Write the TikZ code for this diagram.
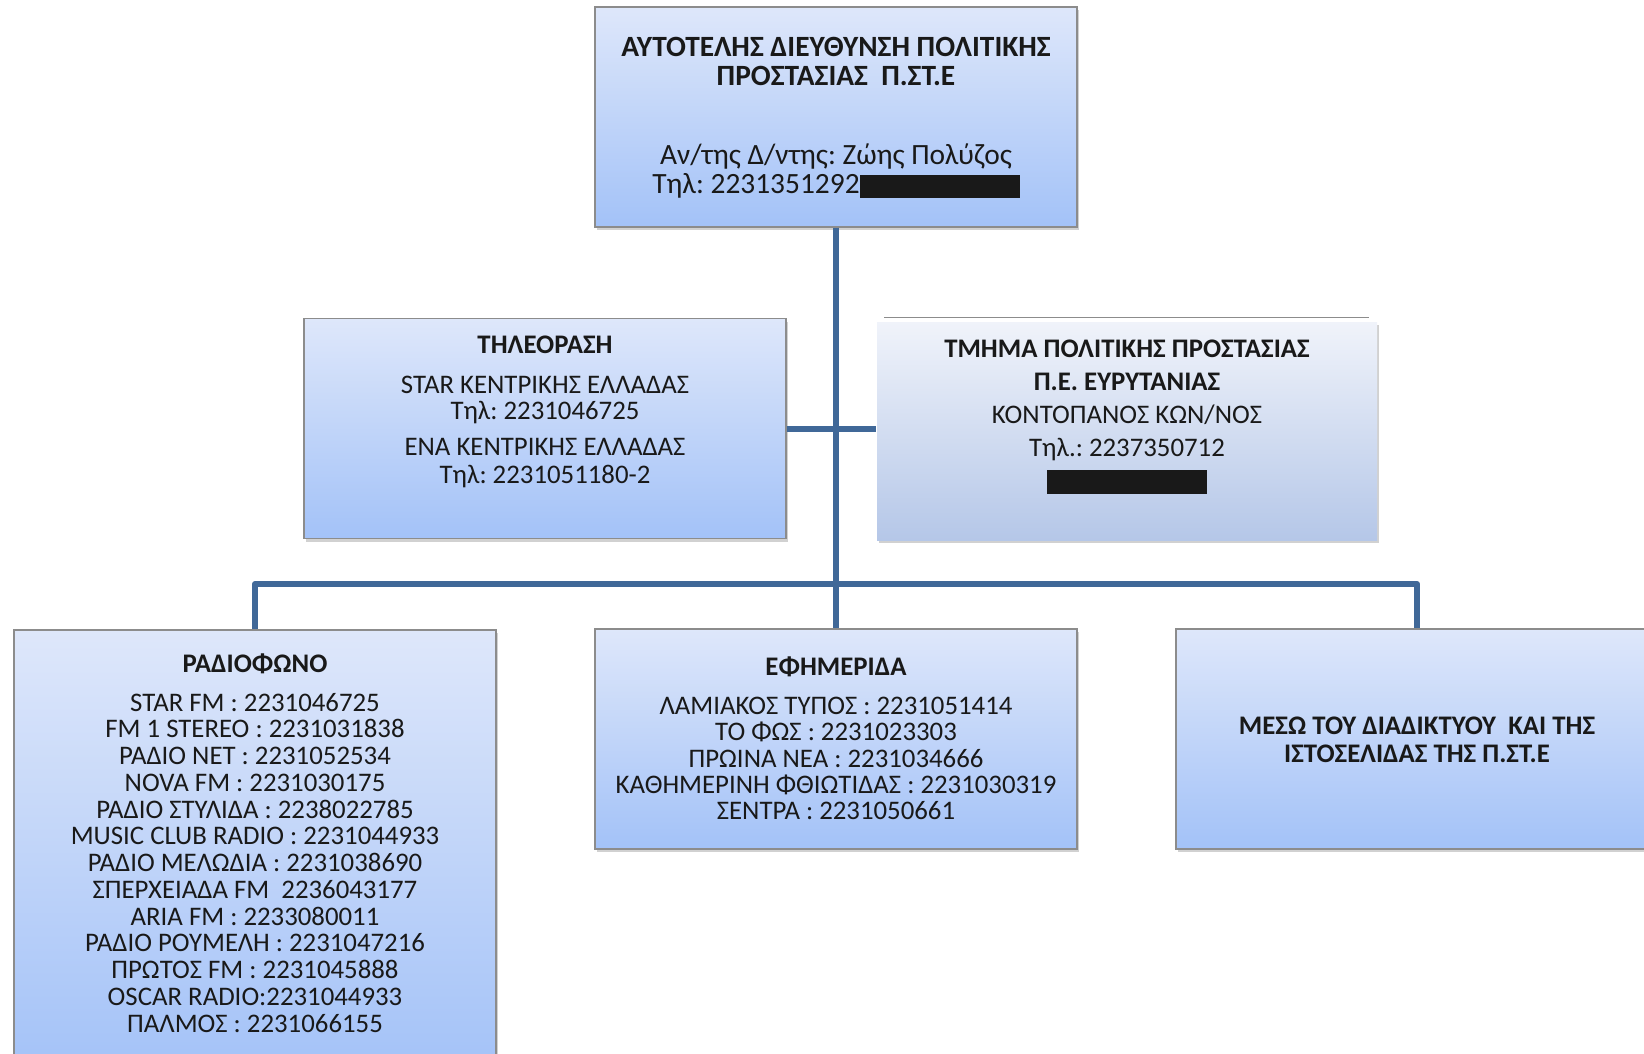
\documentclass[tikz,border=0pt]{standalone}
\usepackage{fontspec}
\setmainfont{Carlito}
\usepackage{xcolor}
\usepackage{tikz}
\usetikzlibrary{positioning, shadows, calc}
\frenchspacing
\definecolor{boxtop}{RGB}{222,231,250}
\definecolor{boxbot}{RGB}{163,194,248}
\definecolor{unittop}{RGB}{240,243,250}
\definecolor{unitbot}{RGB}{181,199,232}
\definecolor{boxline}{RGB}{140,140,140}
\definecolor{linkblue}{RGB}{64,104,152}
\tikzset{
  box/.style={draw=boxline, line width=0.6pt, top color=boxtop, bottom color=boxbot,
              minimum width=241pt, minimum height=110pt, inner sep=0pt,
              drop shadow={shadow xshift=1.2pt, shadow yshift=-1.5pt,
                           fill=black!60, opacity=0.3}},
  unitbox/.style={box, draw=none, top color=unittop, bottom color=unitbot,
                  minimum width=250pt, minimum height=109pt},
  txt/.style={align=center, inner sep=0pt, text=black!90,
              font=\fontsize{13.4}{13.37}\selectfont},
  link/.style={draw=linkblue, line width=3pt, line join=round}
}

\begin{document}
\begin{tikzpicture}[x=0.5pt, y=-0.5pt]
  \useasboundingbox (0,0) rectangle (1644,1054);
  \clip (0,0) rectangle (1644,1054);
  \node[box] (chief) at (836,117) {};
  \node[box] (tv) at (545,428.5) {};
  \node[unitbox] (unit) at (1127,431) {};
  \node[box, minimum height=222.5pt] (radio) at (255,852.5) {};
  \node[box] (press) at (836,739) {};
  \node[box] (web) at (1417,739) {};
  \coordinate (bus) at (836,584);

  \draw[boxline, line width=0.8pt] ([xshift=4pt,yshift=2pt]unit.north west)
    -- ([xshift=-4.5pt,yshift=2pt]unit.north east);

  \draw[link] (chief) -- (press);
  \draw[link] (tv.east) -- (tv.east -| unit.west);
  \draw[link] (radio.north) |- (bus) -| (web.north);

  \node[txt, font=\fontsize{14.7}{14.65}\selectfont] (chieftext) at (836,118)
    {\textbf{ΑΥΤΟΤΕΛΗΣ ΔΙΕΥΘΥΝΣΗ ΠΟΛΙΤΙΚΗΣ}\\
     \textbf{ΠΡΟΣΤΑΣΙΑΣ\ \ Π.ΣΤ.Ε}\\[24.7pt]
     Αν/της Δ/ντης: Ζώης Πολύζος\\
     Τηλ: 2231351292\rule[-2pt]{80pt}{11.5pt}};
  \node[txt, font=\fontsize{13.4}{13.4}\selectfont] (tvtext) at (545,412)
    {\textbf{ΤΗΛΕΟΡΑΣΗ}\\[6.4pt]
     STAR ΚΕΝΤΡΙΚΗΣ ΕΛΛΑΔΑΣ\\
     Τηλ: 2231046725\\[4.3pt]
     ΕΝΑ ΚΕΝΤΡΙΚΗΣ ΕΛΛΑΔΑΣ\\[0.8pt]
     Τηλ: 2231051180-2};
  \node[txt, font=\fontsize{13.4}{16.5}\selectfont] (unittext) at (1127,417)
    {\textbf{ΤΜΗΜΑ ΠΟΛΙΤΙΚΗΣ ΠΡΟΣΤΑΣΙΑΣ}\\
     \textbf{Π.Ε. ΕΥΡΥΤΑΝΙΑΣ}\\
     ΚΟΝΤΟΠΑΝΟΣ ΚΩΝ/ΝΟΣ\\
     Τηλ.: 2237350712\\
     \rule[-2pt]{80pt}{12pt}};
  \node[txt] (radiotext) at (255,843)
    {\textbf{ΡΑΔΙΟΦΩΝΟ}\\[6pt]
     STAR FM : 2231046725\\
     FM 1 STEREO : 2231031838\\
     ΡΑΔΙΟ NET : 2231052534\\
     NOVA FM : 2231030175\\
     ΡΑΔΙΟ ΣΤΥΛΙΔΑ : 2238022785\\
     MUSIC CLUB RADIO : 2231044933\\
     ΡΑΔΙΟ ΜΕΛΩΔΙΑ : 2231038690\\
     ΣΠΕΡΧΕΙΑΔΑ FM\ \ 2236043177\\
     ARIA FM : 2233080011\\
     ΡΑΔΙΟ ΡΟΥΜΕΛΗ : 2231047216\\
     ΠΡΩΤΟΣ FM : 2231045888\\
     OSCAR RADIO:2231044933\\
     ΠΑΛΜΟΣ : 2231066155};
  \node[txt, font=\fontsize{13.4}{13.24}\selectfont] (presstext) at (836,738.5)
    {\textbf{ΕΦΗΜΕΡΙΔΑ}\\[6pt]
     ΛΑΜΙΑΚΟΣ ΤΥΠΟΣ : 2231051414\\
     ΤΟ ΦΩΣ : 2231023303\\
     ΠΡΩΙΝΑ ΝΕΑ : 2231034666\\
     ΚΑΘΗΜΕΡΙΝΗ ΦΘΙΩΤΙΔΑΣ : 2231030319\\
     ΣΕΝΤΡΑ : 2231050661};
  \node[txt, font=\fontsize{13.4}{14.15}\selectfont] (webtext) at (1417,740)
    {\textbf{ΜΕΣΩ ΤΟΥ ΔΙΑΔΙΚΤΥΟΥ\ \ ΚΑΙ ΤΗΣ}\\
     \textbf{ΙΣΤΟΣΕΛΙΔΑΣ ΤΗΣ Π.ΣΤ.Ε}};
\end{tikzpicture}
\end{document}
